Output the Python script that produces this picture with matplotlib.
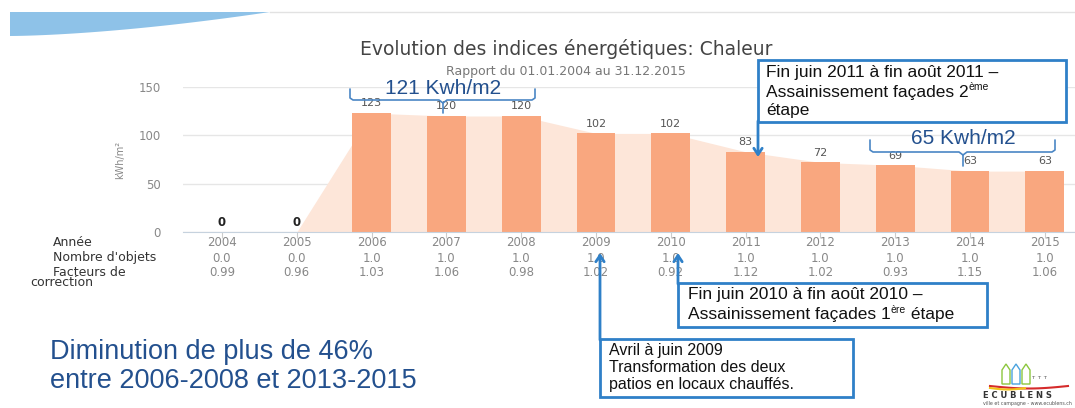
import numpy as np
import matplotlib
matplotlib.use("Agg")
import matplotlib.pyplot as plt
from matplotlib.patches import Rectangle, Polygon
from matplotlib.transforms import blended_transform_factory

# data
years = [2004, 2005, 2006, 2007, 2008, 2009, 2010, 2011, 2012, 2013, 2014, 2015]
values = [0, 0, 123, 120, 120, 102, 102, 83, 72, 69, 63, 63]
nb_objets = [0.0, 0.0, 1.0, 1.0, 1.0, 1.0, 1.0, 1.0, 1.0, 1.0, 1.0, 1.0]
facteurs = [0.99, 0.96, 1.03, 1.06, 0.98, 1.02, 0.92, 1.12, 1.02, 0.93, 1.15, 1.06]

W, H = 1075, 408
BAR = "#f9a77f"
AREA = "#fde6d9"
BLUE = "#2f80c8"
DARKBLUE = "#23508e"
SANS = ["Liberation Sans", "DejaVu Sans"]

fig = plt.figure(figsize=(W / 100, H / 100), dpi=100)

# main chart, placed in pixels
ax = fig.add_axes([183 / W, 1 - 232 / H, (W - 183) / W, 145 / H])
ax.set_xlim(2003.479, 2015.404)
ax.set_ylim(0, 150)
ax.fill_between(years, values, color=AREA, lw=0, zorder=1)
ax.bar(years, values, width=0.52, color=BAR, zorder=2)
ax.set_yticks([0, 50, 100, 150])
ax.set_yticklabels(["0", "50", "100", "150"], color="#888888", fontsize=8.5)
ax.tick_params(axis="y", length=0, pad=16)
ax.grid(axis="y", color="#e6e6e6", lw=1, zorder=0)
ax.set_axisbelow(True)
ax.set_xticks(years)
ax.set_xticklabels([])
ax.tick_params(axis="x", length=4, color="#cccccc")
for s in ["top", "right", "left"]:
    ax.spines[s].set_visible(False)
ax.spines["bottom"].set_color("#c6d2de")
ax.set_ylabel("kWh/m²", fontsize=7, color="#888888", labelpad=10)

for yr, v in zip(years, values):
    if v == 0:
        ax.annotate(str(v), (yr, v), xytext=(0, 7), textcoords="offset points",
                    ha="center", va="center", fontsize=8.5, fontweight="bold", color="#222222")
    else:
        ax.annotate(str(v), (yr, v), xytext=(0, 7), textcoords="offset points",
                    ha="center", va="center", fontsize=8, color="#555555")

# overlay in pixel coordinates for the slide decorations
ov = fig.add_axes([0, 0, 1, 1], zorder=5)
ov.set_xlim(0, W)
ov.set_ylim(H, 0)
ov.axis("off")
ov.patch.set_alpha(0)

# table rows under the axis
tr = blended_transform_factory(ax.transData, ov.transData)
for yr, n, f in zip(years, nb_objets, facteurs):
    ax.text(yr, 243, str(yr), transform=tr, ha="center", va="center", fontsize=8.5, color="#888888")
    ax.text(yr, 258, f"{n:.1f}", transform=tr, ha="center", va="center", fontsize=8.5, color="#888888")
    ax.text(yr, 272, f"{f:.2f}", transform=tr, ha="center", va="center", fontsize=8.5, color="#888888")
ov.text(53, 243, "Année", fontsize=9, color="#333333", va="center")
ov.text(53, 258, "Nombre d'objets", fontsize=9, color="#333333", va="center")
ov.text(53, 272, "Facteurs de", fontsize=9, color="#333333", va="center")
ov.text(30, 283, "correction", fontsize=9, color="#333333", va="center")

# titles
ov.text(566, 49, "Evolution des indices énergétiques: Chaleur", ha="center", va="center",
        fontsize=13.5, color="#444444")
ov.text(566, 71, "Rapport du 01.01.2004 au 31.12.2015", ha="center", va="center",
        fontsize=9, color="#777777")

# top-left blue banner
t = np.linspace(0, 1, 40)
bx = 10 + 260 * t
by = 36 - 24 * t ** 1.6
ov.add_patch(Polygon(list(zip(bx, by)) + [(270, 12), (10, 12)], closed=True,
                     color="#8ec2e8", lw=0))
ov.plot([270, W], [12, 12], color="#e2e2e2", lw=1)


def bracket(x0, x1, y, xm, ytip, ytop):
    ov.plot([x0, x0, x0 + 3, xm - 4, xm, xm], [ytop, y - 2, y, y, y + 3, ytip],
            color="#4a86c5", lw=1.2, solid_capstyle="round")
    ov.plot([xm, xm + 4, x1 - 3, x1, x1], [y + 3, y, y, y - 2, ytop],
            color="#4a86c5", lw=1.2, solid_capstyle="round")


bracket(350, 535, 100, 443, 113, 89)
ov.text(443, 88, "121 Kwh/m2", ha="center", va="center", fontsize=15,
        color=DARKBLUE, family=SANS)
bracket(870, 1055, 152, 963, 166, 140)
ov.text(963, 139, "65 Kwh/m2", ha="center", va="center", fontsize=15,
        color=DARKBLUE, family=SANS)

renderer = fig.canvas.get_renderer()


def rich_line(x, y, parts, size):
    # parts: list of (text, is_superscript)
    for txt, sup in parts:
        if sup:
            tt = ov.text(x, y - 5, txt, fontsize=size * 0.6, va="center", family=SANS, color="#111111")
        else:
            tt = ov.text(x, y, txt, fontsize=size, va="center", family=SANS, color="#111111")
        bb = tt.get_window_extent(renderer)
        x = ov.transData.inverted().transform((bb.x1, bb.y0))[0]


def box(x0, y0, x1, y1):
    ov.add_patch(Rectangle((x0, y0), x1 - x0, y1 - y0, facecolor="white",
                           edgecolor=BLUE, lw=2))


def arrow(x, y_from, y_to):
    ov.annotate("", xy=(x, y_to), xytext=(x, y_from),
                arrowprops=dict(arrowstyle="->,head_length=0.45,head_width=0.3",
                                color=BLUE, lw=2, shrinkA=0, shrinkB=0))


# 2011 note
box(758, 60, 1066, 122)
arrow(758, 121, 157)
rich_line(766, 73, [("Fin juin 2011 à fin août 2011 –", False)], 12.5)
rich_line(766, 92, [("Assainissement façades 2", False), ("ème", True)], 12.5)
rich_line(766, 111, [("étape", False)], 12.5)

# 2010 note
box(678, 283, 987, 327)
arrow(678, 284, 253)
rich_line(688, 294, [("Fin juin 2010 à fin août 2010 –", False)], 12.5)
rich_line(688, 315, [("Assainissement façades 1", False), ("ère", True), (" étape", False)], 12.5)

# 2009 note
box(600, 339, 853, 397)
arrow(600, 340, 253)
rich_line(609, 351, [("Avril à juin 2009", False)], 11.5)
rich_line(609, 368, [("Transformation des deux", False)], 11.5)
rich_line(609, 385, [("patios en locaux chauffés.", False)], 11.5)

# conclusion text
ov.text(50, 352, "Diminution de plus de 46%", fontsize=19.5, color=DARKBLUE, va="center", family=SANS)
ov.text(50, 381, "entre 2006-2008 et 2013-2015", fontsize=19.5, color=DARKBLUE, va="center", family=SANS)

# simple logo
lx = np.linspace(990, 1068, 30)
ov.plot(lx, 386 + 2.5 * np.sin((lx - 990) / 78 * np.pi), color="#d52b2b", lw=1.5)
ov.plot(lx[:14], 388 + 1.5 * np.sin((lx[:14] - 990) / 36 * np.pi), color="#f2c21a", lw=1.5)
for cx, c in [(1006, "#8cc63e"), (1016, "#4aa3df"), (1026, "#8cc63e")]:
    ov.add_patch(Polygon([(cx - 4, 384), (cx - 4, 370), (cx, 364), (cx + 4, 370), (cx + 4, 384)],
                         closed=True, fill=False, edgecolor=c, lw=1))
ov.text(1032, 384, "ᵀ ᵀ ᵀ", fontsize=6, color="#555555", va="bottom")
ov.text(983, 395, "E C U B L E N S", fontsize=6, fontweight="bold", color="#333333", va="center")
ov.text(983, 404, "ville et campagne - www.ecublens.ch", fontsize=3.4, color="#555555", va="center")

fig.savefig("out.png", dpi=100)
